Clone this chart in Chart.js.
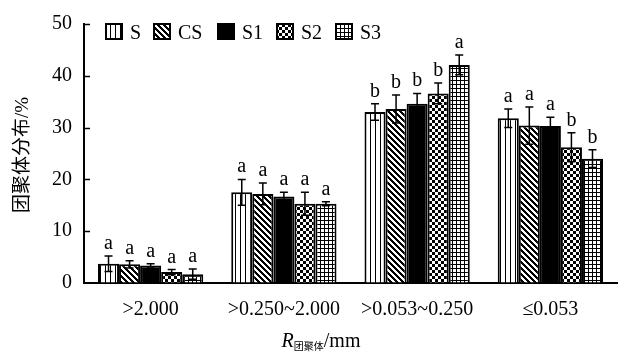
<!DOCTYPE html>
<html lang="zh">
<head>
<meta charset="UTF-8" />
<title></title>
<style>
  body { margin: 0; background: #fff; }
  #wrap { width: 624px; height: 352px; }
</style>
</head>
<body>
<div id="wrap"><canvas id="chart" width="624" height="352"></canvas></div>
<script src="https://cdn.jsdelivr.net/npm/chart.js"></script>
<script>
// aggregate size classes
const categories = ['>2.000', '>0.250~2.000', '>0.053~0.250', '≤0.053'];
const seriesNames = ['S', 'CS', 'S1', 'S2', 'S3'];
const yTicks = [0, 10, 20, 30, 40, 50];

// mean values (%) per series, one per category
const valS  = [3.7, 17.5, 33.0, 31.8];
const valCS = [3.6, 17.2, 33.6, 30.4];
const valS1 = [3.4, 16.7, 34.6, 30.3];
const valS2 = [2.1, 15.3, 36.6, 26.2];
const valS3 = [1.7, 15.3, 42.1, 24.0];

// error bars (±)
const errS  = [1.5, 2.5, 1.6, 1.8];
const errCS = [0.7, 2.1, 2.7, 3.6];
const errS1 = [0.3, 0.8, 2.0, 1.7];
const errS2 = [0.5, 2.2, 2.0, 2.8];
const errS3 = [1.0, 0.4, 1.9, 1.7];

// significance letters
const sigS  = ['a', 'a', 'b', 'a'];
const sigCS = ['a', 'a', 'b', 'a'];
const sigS1 = ['a', 'a', 'b', 'a'];
const sigS2 = ['a', 'a', 'b', 'b'];
const sigS3 = ['a', 'a', 'a', 'b'];

const values = [valS, valCS, valS1, valS2, valS3];
const errors = [errS, errCS, errS1, errS2, errS3];
const letters = [sigS, sigCS, sigS1, sigS2, sigS3];

const serif = '"Liberation Serif", "Times New Roman", serif';

// pixel patterns for the bar fills
function makePattern(size, fn) {
  const c = document.createElement('canvas');
  c.width = size; c.height = size;
  const g = c.getContext('2d');
  const img = g.createImageData(size, size);
  for (let y = 0; y < size; y++) {
    for (let x = 0; x < size; x++) {
      const on = fn(x, y);
      const i = (y * size + x) * 4;
      const v = on ? 0 : 255;
      img.data[i] = v; img.data[i + 1] = v; img.data[i + 2] = v; img.data[i + 3] = 255;
    }
  }
  g.putImageData(img, 0, 0);
  return g.createPattern(c, 'repeat');
}

const fills = [
  makePattern(5, (x, y) => x === 0),                                // vertical lines
  makePattern(6, (x, y) => (((x - y) % 6) + 6) % 6 < 3),           // diagonal
  '#000',                                                          // solid
  makePattern(6, (x, y) => (Math.floor(x / 3) + Math.floor(y / 3)) % 2 === 0), // checker
  makePattern(4, (x, y) => x === 0 || y === 0)                     // grid
];

const datasets = seriesNames.map((name, i) => ({
  label: name,
  data: values[i],
  backgroundColor: fills[i],
  borderColor: '#000',
  borderWidth: 2,
  borderSkipped: 'bottom',
  barPercentage: 1.0,
  categoryPercentage: 0.79
}));

// error bars, letters, inward ticks, legend, titles
const extras = {
  id: 'extras',
  afterDatasetsDraw(chart) {
    const ctx = chart.ctx;
    const y = chart.scales.y;
    ctx.save();
    ctx.strokeStyle = '#000';
    ctx.fillStyle = '#000';
    ctx.lineWidth = 1.5;
    datasets.forEach((ds, i) => {
      const meta = chart.getDatasetMeta(i);
      meta.data.forEach((bar, j) => {
        const v = values[i][j], e = errors[i][j];
        const top = y.getPixelForValue(v + e);
        const bot = y.getPixelForValue(v - e);
        const x = bar.x;
        ctx.beginPath();
        ctx.moveTo(x, top); ctx.lineTo(x, bot);
        ctx.moveTo(x - 4, top); ctx.lineTo(x + 4, top);
        ctx.moveTo(x - 4, bot); ctx.lineTo(x + 4, bot);
        ctx.stroke();
        ctx.font = '20px ' + serif;
        ctx.textAlign = 'center';
        ctx.textBaseline = 'alphabetic';
        ctx.fillText(letters[i][j], x, top - 7);
      });
    });
    ctx.restore();
  },
  afterDraw(chart) {
    const ctx = chart.ctx;
    const area = chart.chartArea;
    const y = chart.scales.y;
    ctx.save();
    ctx.strokeStyle = '#000';
    ctx.fillStyle = '#000';
    // inward y ticks
    ctx.lineWidth = 1.5;
    yTicks.forEach(t => {
      if (t === 0) return;
      const py = Math.round(y.getPixelForValue(t)) + 0.5;
      ctx.beginPath();
      ctx.moveTo(area.left, py); ctx.lineTo(area.left + 6, py);
      ctx.stroke();
    });
    // legend
    const legendX = [106, 154, 218, 277, 336];
    ctx.font = '20px ' + serif;
    ctx.textBaseline = 'alphabetic';
    ctx.textAlign = 'left';
    seriesNames.forEach((name, i) => {
      const bx = legendX[i];
      ctx.fillStyle = fills[i];
      ctx.fillRect(bx, 24, 16, 15);
      ctx.lineWidth = 2;
      ctx.strokeRect(bx, 24, 16, 15);
      ctx.fillStyle = '#000';
      ctx.fillText(name, bx + 24, 39);
    });
    // y title
    ctx.save();
    ctx.translate(23, 155);
    ctx.rotate(-Math.PI / 2);
    ctx.textAlign = 'center';
    ctx.textBaseline = 'middle';
    ctx.font = '19px ' + serif + ', "Noto Sans CJK SC"';
    ctx.fillText('团聚体分布/%', 0, 0);
    ctx.restore();
    // x title: R with subscript
    const base = 347;
    const big = '20px ' + serif;
    const italic = 'italic 20px ' + serif;
    const small = '10px "Noto Sans CJK SC"';
    ctx.font = italic; const wR = ctx.measureText('R').width;
    ctx.font = small; const wSub = ctx.measureText('团聚体').width;
    ctx.font = big; const wMm = ctx.measureText('/mm').width;
    let x = 321 - (wR + wSub + wMm) / 2;
    ctx.textAlign = 'left';
    ctx.font = italic; ctx.fillText('R', x, base); x += wR;
    ctx.font = small; ctx.fillText('团聚体', x, base + 3); x += wSub;
    ctx.font = big; ctx.fillText('/mm', x, base);
    ctx.restore();
  }
};

new Chart(document.getElementById('chart'), {
  type: 'bar',
  data: { labels: categories, datasets: datasets },
  options: {
    responsive: false,
    animation: false,
    layout: { padding: { left: 0, right: 7, top: 15, bottom: 0 } },
    plugins: { legend: { display: false }, tooltip: { enabled: false } },
    scales: {
      x: {
        grid: { display: true, drawOnChartArea: false, drawTicks: false },
        border: { display: true, color: '#000', width: 2 },
        ticks: { color: '#000', padding: 15, font: { family: serif, size: 20 } },
        afterFit: s => { s.height = 69; }
      },
      y: {
        min: 0, max: 50,
        afterBuildTicks: s => { s.ticks = yTicks.map(v => ({ value: v })); },
        grid: { display: true, drawOnChartArea: false, drawTicks: false },
        border: { display: true, color: '#000', width: 2 },
        ticks: { color: '#000', padding: 12, font: { family: serif, size: 20 } },
        afterFit: s => { s.width = 84; }
      }
    }
  },
  plugins: [extras]
});
</script>
</body>
</html>
